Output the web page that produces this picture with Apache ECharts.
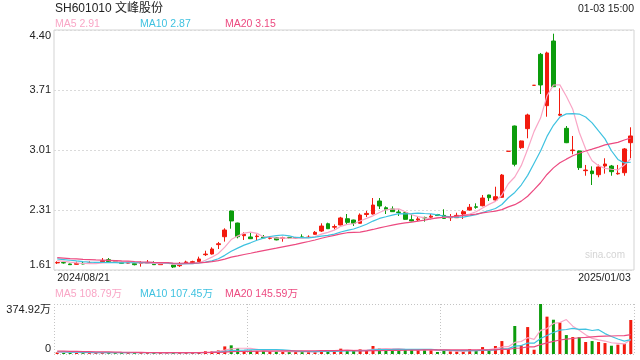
<!DOCTYPE html>
<html><head><meta charset="utf-8">
<script src="https://cdn.jsdelivr.net/npm/echarts@6/dist/echarts.min.js"></script>
<style>html,body{margin:0;padding:0;background:#fff}#c{width:640px;height:360px}</style>
</head><body><div id="c"></div>
<script>
const categories = [
'2024/08/21','2024/08/22','2024/08/23','2024/08/26','2024/08/27','2024/08/28','2024/08/29','2024/08/30',
'2024/09/02','2024/09/03','2024/09/04','2024/09/05','2024/09/06','2024/09/09','2024/09/10','2024/09/11','2024/09/12','2024/09/13','2024/09/18','2024/09/19','2024/09/20','2024/09/23','2024/09/24','2024/09/25','2024/09/26','2024/09/27','2024/09/30',
'2024/10/08','2024/10/09','2024/10/10','2024/10/11','2024/10/14','2024/10/15','2024/10/16','2024/10/17','2024/10/18','2024/10/21','2024/10/22','2024/10/23','2024/10/24','2024/10/25','2024/10/28','2024/10/29','2024/10/30','2024/10/31',
'2024/11/01','2024/11/04','2024/11/05','2024/11/06','2024/11/07','2024/11/08','2024/11/11','2024/11/12','2024/11/13','2024/11/14','2024/11/15','2024/11/18','2024/11/19','2024/11/20','2024/11/21','2024/11/22','2024/11/25','2024/11/26','2024/11/27','2024/11/28','2024/11/29',
'2024/12/02','2024/12/03','2024/12/04','2024/12/05','2024/12/06','2024/12/09','2024/12/10','2024/12/11','2024/12/12','2024/12/13','2024/12/16','2024/12/17','2024/12/18','2024/12/19','2024/12/20','2024/12/23','2024/12/24','2024/12/25','2024/12/26','2024/12/27','2024/12/30','2024/12/31',
'2025/01/02','2025/01/03'];

const opens = [1.693,1.697,1.680,1.676,1.688,1.688,1.693,1.707,1.730,1.715,1.699,1.690,1.684,1.688,1.688,1.695,1.672,1.690,1.668,1.660,1.695,1.696,1.707,
1.788,1.796,1.905,1.997,2.296,2.156,2.009,1.994,1.998,1.992,1.979,1.985,1.978,1.988,1.982,1.995,1.988,2.025,2.063,
2.148,2.108,2.133,2.206,2.191,2.153,2.255,2.261,2.412,2.334,2.319,2.284,2.276,2.195,2.193,2.221,2.224,2.255,2.245,2.218,2.218,2.261,2.307,2.345,2.357,2.482,2.424,2.455,
2.990,3.284,3.032,3.253,3.757,4.117,3.520,4.272,3.410,3.257,2.998,2.994,2.765,2.761,2.718,2.819,2.819,2.728,2.741,3.090];
const closes = [1.697,1.692,1.672,1.686,1.680,1.690,1.695,1.718,1.707,1.711,1.688,1.695,1.672,1.695,1.699,1.672,1.684,1.695,1.645,1.676,1.703,1.707,1.738,
1.795,1.854,1.915,2.075,2.180,1.997,2.025,1.974,2.004,1.984,1.984,1.960,1.984,1.984,1.986,1.986,1.992,2.048,2.121,
2.090,2.115,2.215,2.164,2.153,2.249,2.268,2.365,2.354,2.315,2.288,2.279,2.199,2.180,2.204,2.215,2.236,2.243,2.210,2.224,2.245,2.288,2.339,2.339,2.447,2.450,2.462,2.714,
2.990,2.839,3.110,3.412,3.757,3.761,4.133,3.741,3.420,3.090,3.005,2.800,2.772,2.730,2.808,2.842,2.753,2.734,3.017,3.168];
const lows = [1.680,1.684,1.668,1.672,1.676,1.684,1.688,1.695,1.703,1.703,1.684,1.686,1.664,1.649,1.684,1.668,1.668,1.684,1.633,1.645,1.692,1.692,1.703,
1.773,1.790,1.854,1.940,2.090,1.978,1.959,1.970,1.955,1.980,1.966,1.955,1.939,1.975,1.975,1.983,1.982,2.020,2.052,
2.088,2.082,2.128,2.133,2.122,2.150,2.226,2.255,2.319,2.261,2.285,2.238,2.195,2.176,2.180,2.172,2.199,2.238,2.205,2.180,2.214,2.203,2.300,2.322,2.350,2.412,2.412,2.450,
2.990,2.815,3.017,3.141,3.757,3.656,3.392,3.741,3.400,3.085,2.955,2.773,2.706,2.598,2.688,2.730,2.706,2.718,2.706,2.909];
const highs = [1.711,1.711,1.684,1.707,1.711,1.711,1.703,1.749,1.749,1.722,1.707,1.699,1.703,1.711,1.726,1.711,1.688,1.703,1.672,1.703,1.718,1.718,1.765,
1.834,1.874,1.936,2.095,2.300,2.160,2.048,2.048,2.025,2.017,2.001,1.990,1.997,1.995,1.995,2.025,2.013,2.063,2.153,
2.160,2.140,2.228,2.261,2.195,2.268,2.298,2.447,2.447,2.350,2.350,2.316,2.284,2.257,2.230,2.230,2.261,2.262,2.316,2.261,2.276,2.308,2.377,2.385,2.482,2.485,2.578,2.726,
2.990,3.289,3.115,3.427,3.757,4.133,4.148,4.357,3.722,3.284,3.168,2.998,2.831,2.815,2.835,2.909,2.831,2.831,3.028,3.269];
// closes of the 19 sessions before the first shown day (estimated from where the MA lines start)
const priorCloses = [1.79,1.78,1.77,1.78,1.76,1.77,1.76,1.75,1.77,1.76,1.76,1.75,1.77,1.76,1.75,1.73,1.72,1.73,1.715];

// volume in 万 shares
const volumes = [12,10,9,11,8,10,9,14,13,10,9,8,10,11,9,10,8,7,12,11,9,10,15,
22,22,27,57,65,45,22,25,22,20,20,20,17,15,15,17,15,20,30,
25,17,40,30,25,37,25,60,42,37,32,30,32,30,30,32,30,15,25,20,20,22,37,25,52,30,60,97,
37,210,65,202,32,374.92,280,257,237,142,127,127,90,97,90,82,62,70,75,255];
const priorVolumes = [30,28,25,27,26,29,24,28,26,27,22,20,21,22,20,14,13,12,14];

const priceTicks = ['1.61','2.31','3.01','3.71','4.40'];
const volumeTicks = ['0','374.92万'];
const maNames = ['MA5','MA10','MA20'];
const maPeriods = [5,10,20];
const priceMaLatest = ['2.91','2.87','3.15'];
const volumeMaLatest = ['108.79万','107.45万','145.59万'];
const title = 'SH601010 文峰股份';
const timeText = '01-03 15:00';

const RED = '#f21a0e', GREEN = '#0c9c0c';
const MA_COLORS = ['#f9a6c6','#3fc2e0','#ec4a80'];
const FONT = '"Liberation Sans", Arial, "Noto Sans CJK SC", sans-serif';

function movingAvg(values, prior, n) {
  const all = prior.concat(values);
  return values.map((_, i) => {
    const j = i + prior.length;
    let s = 0;
    for (let k = j - n + 1; k <= j; k++) s += all[k];
    return +(s / n).toFixed(4);
  });
}

const pMin = parseFloat(priceTicks[0]), pMax = parseFloat(priceTicks[priceTicks.length - 1]);
const pInt = (pMax - pMin) / (priceTicks.length - 1);
const vMax = parseFloat(volumeTicks[1]);

const candleData = opens.map((o, i) => [o, closes[i], lows[i], highs[i]]);
const isUp = closes.map((c, i) => c > opens[i] || (c === opens[i] && (i === 0 || c >= closes[i - 1])));
const volData = volumes.map((v, i) => ({ value: v, itemStyle: { color: isUp[i] ? RED : GREEN } }));

const chart = echarts.init(document.getElementById('c'), null, { renderer: 'canvas' });

const series = [{
  type: 'candlestick', xAxisIndex: 0, yAxisIndex: 0, data: candleData, barWidth: '66%',
  itemStyle: { color: RED, color0: GREEN, borderColor: RED, borderColor0: GREEN, borderWidth: 1 }
}];
maPeriods.forEach((n, k) => series.push({
  type: 'line', xAxisIndex: 0, yAxisIndex: 0, data: movingAvg(closes, priorCloses, n),
  showSymbol: false, symbol: 'none', lineStyle: { width: 1.2, color: MA_COLORS[k] }, z: 3
}));
series.push({ type: 'bar', xAxisIndex: 1, yAxisIndex: 1, data: volData, barWidth: 3 });
maPeriods.forEach((n, k) => series.push({
  type: 'line', xAxisIndex: 1, yAxisIndex: 1, data: movingAvg(volumes, priorVolumes, n),
  showSymbol: false, symbol: 'none', lineStyle: { width: 1.2, color: MA_COLORS[k] }, z: 3
}));

const graphics = [
  { type: 'text', x: 55, y: 9, style: { text: title, fill: '#222', font: '12px ' + FONT, verticalAlign: 'middle', textVerticalAlign: 'middle' } },
  { type: 'text', x: 634, y: 9, style: { text: timeText, fill: '#222', font: '10.5px ' + FONT, align: 'right', textAlign: 'right', verticalAlign: 'middle', textVerticalAlign: 'middle' } },
  { type: 'text', x: 625, y: 255, style: { text: 'sina.com', fill: '#d4d4d4', font: '10px ' + FONT, align: 'right', textAlign: 'right', verticalAlign: 'middle', textVerticalAlign: 'middle' } }
];
const legendX = [55, 140, 225];
maNames.forEach((name, k) => {
  graphics.push({ type: 'text', x: legendX[k], y: 24.5, style: { text: name + ' ' + priceMaLatest[k], fill: MA_COLORS[k], font: '10.5px ' + FONT, verticalAlign: 'middle', textVerticalAlign: 'middle' } });
  graphics.push({ type: 'text', x: legendX[k], y: 294.5, style: { text: name + ' ' + volumeMaLatest[k], fill: MA_COLORS[k], font: '10.5px ' + FONT, verticalAlign: 'middle', textVerticalAlign: 'middle' } });
});

chart.setOption({
  animation: false,
  backgroundColor: '#fff',
  grid: [
    { left: 54, right: 6, top: 30, height: 240, show: true, borderColor: '#d3d3d3', borderWidth: 1 },
    { left: 54, right: 6, top: 304, height: 50 }
  ],
  xAxis: [
    { type: 'category', gridIndex: 0, data: categories, boundaryGap: true,
      axisLine: { show: false }, axisTick: { show: false }, splitLine: { show: false },
      axisLabel: { interval: (i) => i === 0 || i === categories.length - 1, color: '#222', fontSize: 10.5, fontFamily: FONT, margin: 3,
        alignMinLabel: 'left', alignMaxLabel: 'right', showMinLabel: true, showMaxLabel: true } },
    { type: 'category', gridIndex: 1, data: categories, boundaryGap: true,
      axisLine: { show: false }, axisTick: { show: false }, axisLabel: { show: false },
      splitLine: { show: true, interval: 29, lineStyle: { type: [1, 2], color: '#c4c4c4', width: 1 } } }
  ],
  yAxis: [
    { type: 'value', gridIndex: 0, min: pMin, max: pMax, interval: pInt,
      axisLine: { show: false }, axisTick: { show: false },
      splitLine: { show: true, lineStyle: { type: [2, 2], color: '#dadada', width: 1 } },
      axisLabel: { formatter: (v) => priceTicks[Math.round((v - pMin) / pInt)], color: '#222', fontSize: 11, fontFamily: FONT, margin: 3,
        verticalAlignMinLabel: 'bottom', verticalAlignMaxLabel: 'top' } },
    { type: 'value', gridIndex: 1, min: 0, max: vMax, interval: vMax,
      axisLine: { show: false }, axisTick: { show: false },
      splitLine: { show: true, lineStyle: { type: [1, 2], color: '#c4c4c4', width: 1 } },
      axisLabel: { formatter: (v) => volumeTicks[Math.round(v / vMax)], color: '#222', fontSize: 11, fontFamily: FONT, margin: 3,
        verticalAlignMinLabel: 'bottom', verticalAlignMaxLabel: 'top' } }
  ],
  series: series,
  graphic: graphics
});
</script></body></html>
